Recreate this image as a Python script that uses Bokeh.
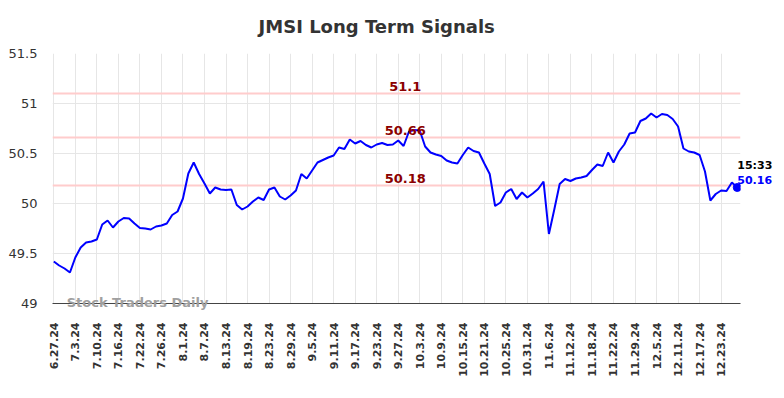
import math
from bokeh.plotting import figure
from bokeh.models import Label, FixedTicker, Span
from bokeh.embed import file_html
from bokeh.resources import INLINE

# ---- data ----
prices = [
    49.42, 49.38, 49.35, 49.31, 49.46, 49.56, 49.61, 49.62, 49.64, 49.79,
    49.83, 49.76, 49.82, 49.855, 49.85, 49.80, 49.755, 49.75, 49.74, 49.77,
    49.78, 49.80, 49.885, 49.92, 50.05, 50.30, 50.41, 50.295, 50.20, 50.10,
    50.16, 50.14, 50.135, 50.14, 49.985, 49.94, 49.97, 50.02, 50.06, 50.035,
    50.14, 50.16, 50.07, 50.04, 50.08, 50.13, 50.295, 50.25, 50.33, 50.41,
    50.435, 50.46, 50.48, 50.56, 50.545, 50.64, 50.60, 50.625, 50.585, 50.56,
    50.59, 50.605, 50.585, 50.59, 50.63, 50.575, 50.72, 50.735, 50.73, 50.57,
    50.51, 50.49, 50.475, 50.43, 50.41, 50.40, 50.485, 50.56, 50.525, 50.51,
    50.40, 50.295, 49.975, 50.01, 50.11, 50.145, 50.045, 50.11, 50.06, 50.10,
    50.145, 50.22, 49.695, 49.94, 50.195, 50.245, 50.225, 50.25, 50.26, 50.275,
    50.335, 50.39, 50.375, 50.51, 50.41, 50.52, 50.59, 50.70, 50.71, 50.825,
    50.85, 50.90, 50.86, 50.895, 50.885, 50.845, 50.77, 50.55, 50.52, 50.51,
    50.485, 50.32, 50.03, 50.095, 50.13, 50.125, 50.21, 50.16,
]
tick_labels = [
    "6.27.24", "7.3.24", "7.10.24", "7.16.24", "7.22.24", "7.26.24", "8.1.24",
    "8.7.24", "8.13.24", "8.19.24", "8.23.24", "8.29.24", "9.5.24", "9.11.24",
    "9.17.24", "9.23.24", "9.27.24", "10.3.24", "10.9.24", "10.15.24",
    "10.21.24", "10.25.24", "10.31.24", "11.6.24", "11.12.24", "11.18.24",
    "11.22.24", "11.29.24", "12.5.24", "12.11.24", "12.17.24", "12.23.24",
]
tick_step = 4
y_ticks = [49, 49.5, 50, 50.5, 51, 51.5]
y_tick_labels = ["49", "49.5", "50", "50.5", "51", "51.5"]
signal_levels = [51.1, 50.66, 50.18]
signal_texts = ["51.1", "50.66", "50.18"]
last_time = "15:33"
last_price_text = "50.16"
title_text = "JMSI Long Term Signals"
watermark = "Stock Traders Daily"

FONT = "DejaVu Sans"
idx = list(range(len(prices)))
tick_pos = [i * tick_step for i in range(len(tick_labels))]

p = figure(frame_width=688, frame_height=250, x_range=(-0.24, 127.6),
           y_range=(49, 51.5), output_backend="svg", toolbar_location=None,
           min_border_left=52, min_border_right=44, min_border_top=53,
           min_border_bottom=80)
p.outline_line_color = None
p.background_fill_color = "white"
p.border_fill_color = "white"

# x axis
p.xaxis.ticker = FixedTicker(ticks=tick_pos)
p.xaxis.major_label_overrides = {t: l for t, l in zip(tick_pos, tick_labels)}
p.xaxis.major_label_orientation = math.pi / 2
p.xaxis.major_label_text_font = FONT
p.xaxis.major_label_text_font_size = "11px"
p.xaxis.major_label_text_font_style = "bold"
p.xaxis.major_label_text_color = "#333333"
p.xaxis.major_tick_line_color = None
p.xaxis.minor_tick_line_color = None
p.xaxis.major_tick_out = 0
p.xaxis.major_tick_in = 0
p.xaxis.major_label_standoff = 19
p.xaxis.axis_line_color = "#444444"
p.xaxis.axis_line_width = 1

# y axis
p.yaxis.ticker = FixedTicker(ticks=y_ticks)
p.yaxis.major_label_overrides = {t: l for t, l in zip(y_ticks, y_tick_labels)}
p.yaxis.major_label_text_font = FONT
p.yaxis.major_label_text_font_size = "13px"
p.yaxis.major_label_text_color = "#333333"
p.yaxis.axis_line_color = None
p.yaxis.major_tick_line_color = None
p.yaxis.minor_tick_line_color = None
p.yaxis.major_tick_out = 0
p.yaxis.major_tick_in = 0
p.yaxis.major_label_standoff = 15

p.xgrid.grid_line_color = "#e6e6e6"
p.ygrid.grid_line_color = "#e6e6e6"

# signal lines
for lvl, txt in zip(signal_levels, signal_texts):
    p.add_layout(Span(location=lvl, dimension="width", line_color="#ffcccc",
                      line_width=2, level="underlay"))
    p.add_layout(Label(x=65.3, y=lvl, y_offset=7.5, text=txt, text_align="center",
                       text_baseline="alphabetic", text_font=FONT,
                       text_font_size="13px", text_font_style="bold",
                       text_color="#8b0000"))

p.line(idx, prices, line_color="#0000ff", line_width=2)
p.scatter([idx[-1]], [prices[-1]], size=8, color="#0000ff")

p.add_layout(Label(x=idx[-1], x_offset=0, y=50.38, text=last_time,
                   text_baseline="alphabetic", text_font=FONT,
                   text_font_size="11px", text_font_style="bold",
                   text_color="#000000"), "right")
p.add_layout(Label(x=idx[-1], x_offset=0, y=50.24, text=last_price_text,
                   text_baseline="alphabetic", text_font=FONT,
                   text_font_size="11px", text_font_style="bold",
                   text_color="#0000ff"), "right")

p.add_layout(Label(x=60, y=51.77, text=title_text, text_align="center",
                   text_baseline="alphabetic", text_font=FONT,
                   text_font_size="18px", text_font_style="bold",
                   text_color="#333333"), "above")
p.add_layout(Label(x=2.4, y=49.015, text=watermark, text_baseline="alphabetic",
                   text_font=FONT, text_font_size="13px", text_font_style="bold",
                   text_color="#a0a0a0"), "below")

open("out.html", "w").write(file_html(p, INLINE))
